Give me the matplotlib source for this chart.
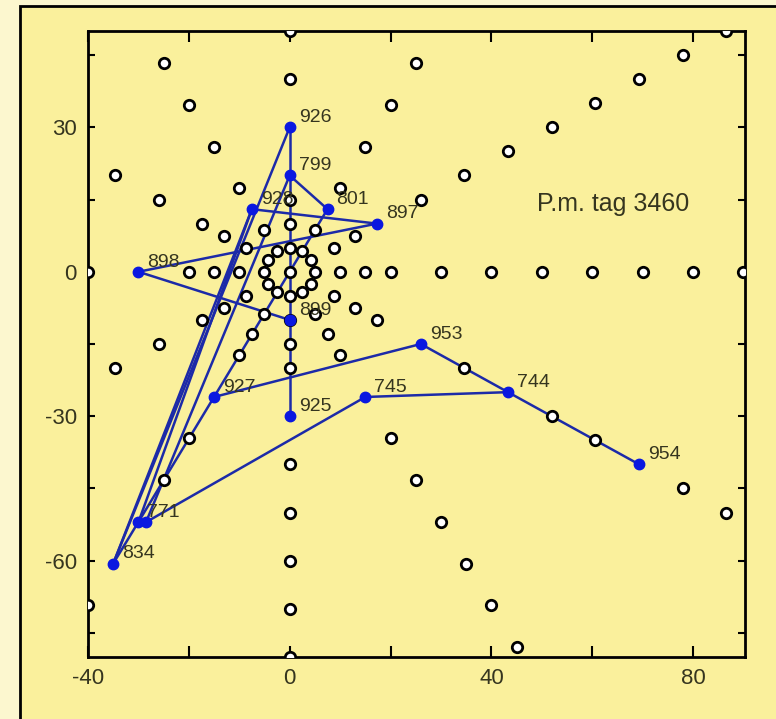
import matplotlib.pyplot as plt
from matplotlib.patches import Rectangle

# black open markers (the sampling grid)
grid_x = [0,
          5, 4.3, 2.5, 0, -2.5, -4.3, -5, -4.3, -2.5, 0, 2.5, 4.3,
          10, 8.7, 5, 0, -5, -8.7, -10, -8.7, -5, 0, 5, 8.7,
          15, 13, 0, -13, -15, -13, -7.5, 0, 7.5, 13,
          20, 10, -10, -17.3, -20, -17.3, -10, 0, 10, 17.3,
          30, 26, 15, -15, -26, -26,
          40, 34.6, 20, 0, -20, -34.6, -40, -34.6, -20, 0, 20, 34.6,
          50, 43.3, 25, 0, -25, -25, 0, 25,
          60, 52, 0, 30, 52,
          70, 60.6, 0, 35, 60.6,
          80, 69.3, -40, 0, 40,
          90, 78, 45, 78,
          86.6, 86.6]
grid_y = [0,
          0, 2.5, 4.3, 5, 4.3, 2.5, 0, -2.5, -4.3, -5, -4.3, -2.5,
          0, 5, 8.7, 10, 8.7, 5, 0, -5, -8.7, -10, -8.7, -5,
          0, 7.5, 15, 7.5, 0, -7.5, -13, -15, -13, -7.5,
          0, 17.3, 17.3, 10, 0, -10, -17.3, -20, -17.3, -10,
          0, 15, 26, 26, 15, -15,
          0, 20, 34.6, 40, 34.6, 20, 0, -20, -34.6, -40, -34.6, -20,
          0, 25, 43.3, 50, 43.3, -43.3, -50, -43.3,
          0, 30, -60, -52, -30,
          0, 35, -70, -60.6, -35,
          0, 40, -69.3, -80, -69.3,
          0, 45, -78, -45,
          50, -50]

# tagged positions (blue)
tags = ['926', '799', '801', '897', '928', '898', '899', '953', '744',
        '954', '745', '925', '927', '771', '', '834']
tag_x = [0, 0, 7.5, 17.3, -7.5, -30, 0, 26, 43.3, 69.3, 15, 0, -15, -30, -28.5, -35]
tag_y = [30, 20, 13, 10, 13, 0, -10, -15, -25, -40, -26, -30, -26, -52, -52, -60.6]

# track segments between tags
edges = [('954', '744'), ('744', '953'), ('953', '927'), ('927', '801'),
         ('801', '799'), ('799', '926'), ('799', '899'), ('899', '925'),
         ('899', '898'), ('898', '897'), ('897', '928'), ('744', '745'),
         ('745', '771b'), ('927', '834'), ('926', '834'), ('928', '834'),
         ('928', '771'), ('799', '771b')]

yellow = '#faf09c'
ink = '#35351f'
fig = plt.figure(figsize=(7.76, 7.19), dpi=100, facecolor='#fcf7cf')
fig.patches.append(Rectangle((20 / 776, -0.1), 1.2, 1.1 - 6 / 719, transform=fig.transFigure,
                             facecolor=yellow, edgecolor='black', linewidth=2, zorder=-10))

ax = fig.add_axes([88 / 776, 1 - 657 / 719, 657 / 776, 626 / 719])
ax.set_facecolor(yellow)
ax.set_xlim(-40, 90.3)
ax.set_ylim(-80, 50)

pos = {t: (x, y) for t, x, y in zip(tags, tag_x, tag_y)}
pos['771b'] = pos.pop('')
for a, b in edges:
    ax.plot([pos[a][0], pos[b][0]], [pos[a][1], pos[b][1]], color='#1c2aa8', lw=1.8, zorder=2)

ax.plot(grid_x, grid_y, 'o', ms=7.5, mfc='white', mec='black', mew=2, zorder=3)
ax.plot(tag_x, tag_y, 'o', ms=7.5, color='#0a18e0', zorder=4)

for t, x, y in zip(tags, tag_x, tag_y):
    if t:
        ax.annotate(t, (x, y), xytext=(6.5, 7), textcoords='offset points', ha='left', va='center',
                    fontsize=14, family='Liberation Sans', color=ink, zorder=5)

ax.text(49, 14, 'P.m. tag 3460', fontsize=18, family='Liberation Sans', color=ink,
        va='center', ha='left')

ax.set_xticks(range(-40, 81, 20))
ax.set_xticklabels(['-40', '', '0', '', '40', '', '80'])
ax.set_yticks(range(-75, 46, 15))
ax.set_yticklabels(['', '-60', '', '-30', '', '0', '', '30', ''])
ax.tick_params(direction='in', width=1.5, top=True, right=True, pad=8,
               labelsize=16, labelcolor=ink)
ax.tick_params(axis='x', length=8)
ax.tick_params(axis='y', length=5)
for lab in ax.get_xticklabels() + ax.get_yticklabels():
    lab.set_family('Liberation Sans')
for s in ax.spines.values():
    s.set_linewidth(2)

fig.savefig('out.png', dpi=100, facecolor=fig.get_facecolor())
